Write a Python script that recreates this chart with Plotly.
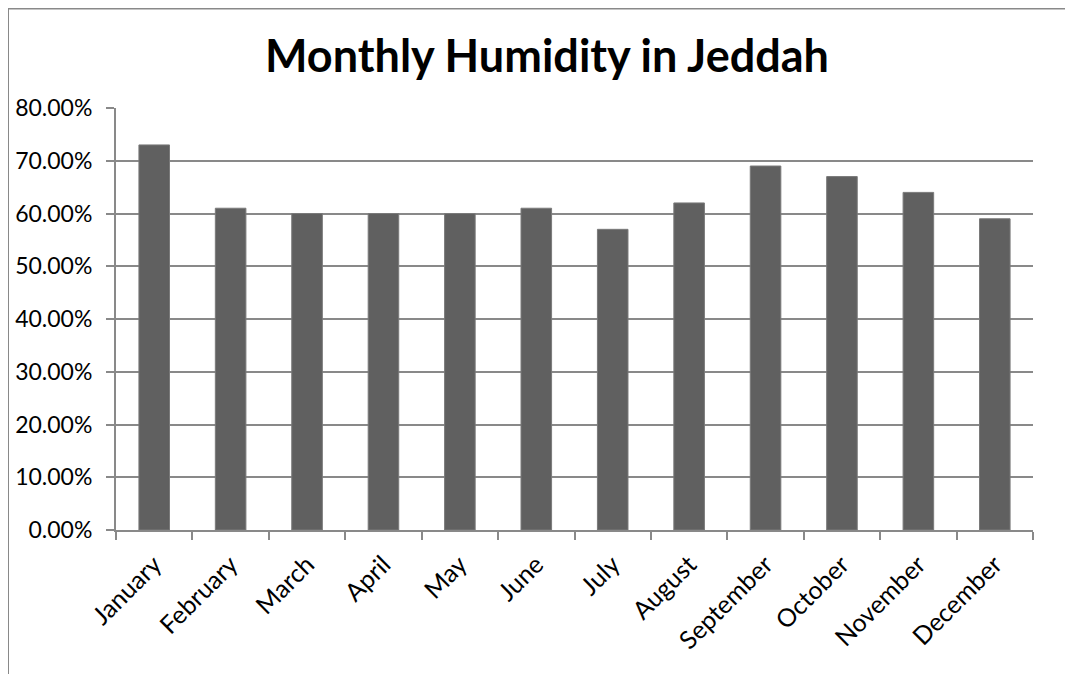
import plotly.graph_objects as go

months = ["January", "February", "March", "April", "May", "June", "July",
          "August", "September", "October", "November", "December"]
humidity = [0.73, 0.61, 0.60, 0.60, 0.60, 0.61, 0.57, 0.62, 0.69, 0.67, 0.64, 0.59]

FONT = "Lato"
GRID = "#898989"

# page is offset by the 8px body margin; figure coordinates below
FW, FH = 1065, 666
L, R, T, B = 108, 1025, 99.5, 522
W, H = R - L, B - T
def px_x(x):
    return (x - L) / W
def px_y(y):
    return (B - y) / H

fig = go.Figure()
fig.add_trace(go.Bar(
    x=months, y=humidity,
    marker=dict(color="#606060", line=dict(color="#7a7a7a", width=1)),
    width=0.4,
))

fig.update_layout(
    width=FW, height=FH,
    margin=dict(l=L, r=FW - R, t=T, b=FH - B, autoexpand=False),
    paper_bgcolor="white", plot_bgcolor="white",
    showlegend=False,
    title=dict(text="<b>Monthly Humidity in Jeddah</b>", x=(547 - 8) / FW, xanchor="center",
               y=1 - 48 / FH, yanchor="middle",
               font=dict(family=FONT, size=45, color="black")),
    font=dict(family=FONT, size=22, color="black"),
    xaxis=dict(type="category", tickson="boundaries", ticks="outside", ticklen=8,
               tickcolor=GRID, tickwidth=2, showline=True, linecolor=GRID,
               linewidth=2, tickangle=-45, showgrid=False, ticklabelstandoff=8,
               tickfont=dict(family=FONT, size=25, color="black")),
    yaxis=dict(range=[0, 0.8], dtick=0.1, tickformat=".2%", ticks="outside", ticklen=8,
               tickcolor=GRID, tickwidth=2, showline=True, linecolor=GRID,
               linewidth=2, showgrid=True, gridcolor=GRID, gridwidth=2,
               zeroline=False, ticklabelstandoff=9,
               tickfont=dict(family=FONT, size=23, color="black")),
    bargap=0.6,
)

# outer chart frame (left and top edges visible)
fig.add_shape(type="line", xref="paper", yref="paper",
              x0=px_x(0), x1=px_x(0), y0=px_y(0), y1=px_y(700),
              line=dict(color=GRID, width=2))
fig.add_shape(type="line", xref="paper", yref="paper",
              x0=px_x(0), x1=px_x(1090), y0=px_y(0), y1=px_y(0),
              line=dict(color=GRID, width=2))

fig.write_html("out.html")
